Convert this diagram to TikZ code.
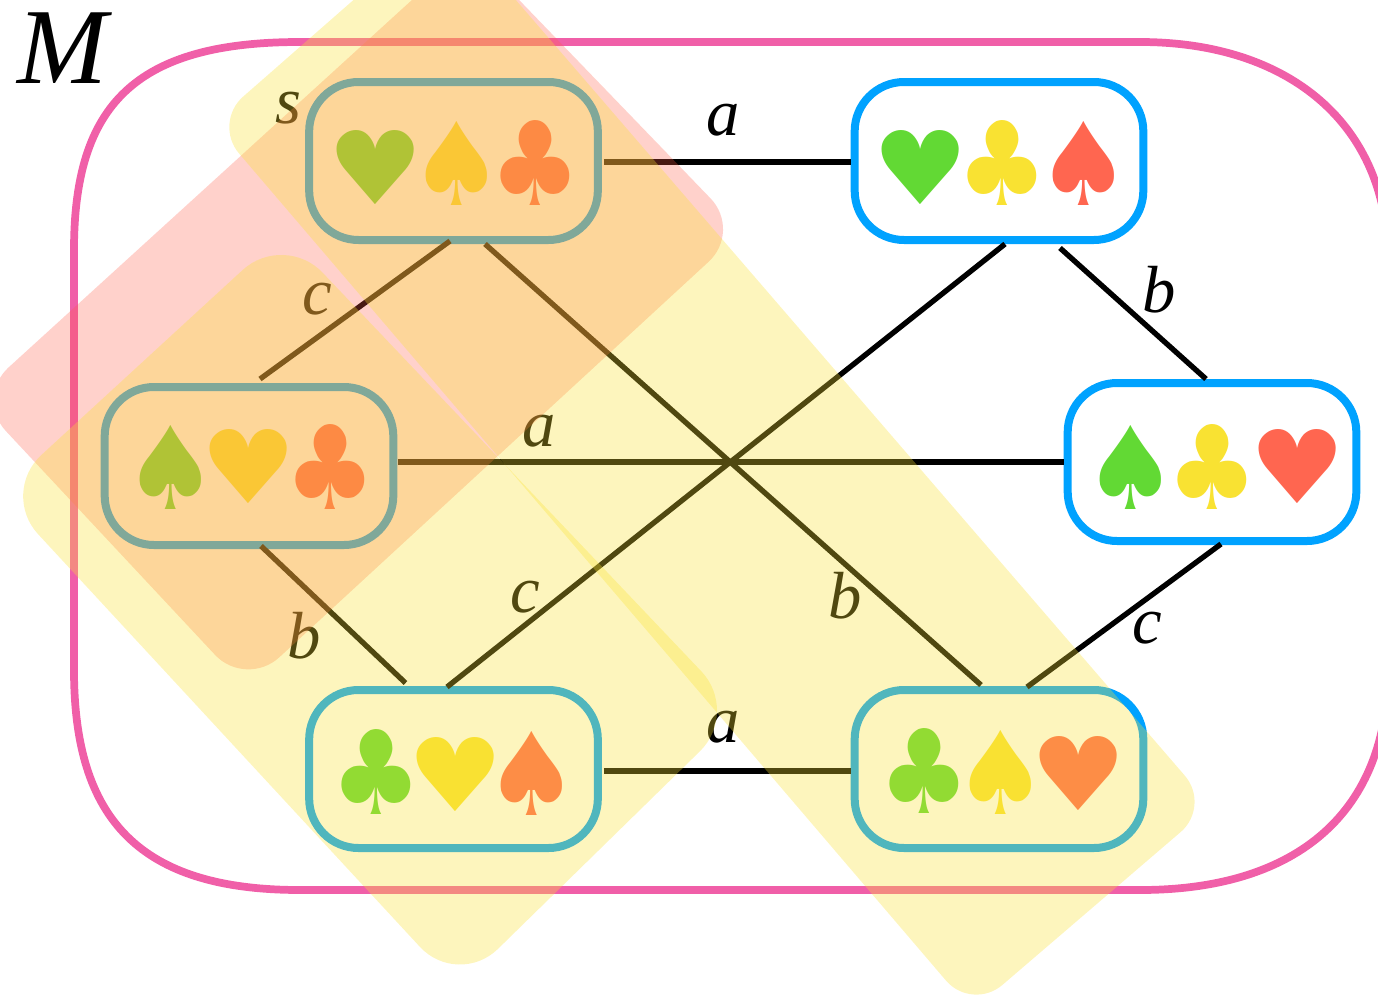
\documentclass[tikz,border=0pt]{standalone}
\usepackage{graphicx}
\usepackage{fontspec}
\setmainfont{Liberation Serif}
\newfontfamily\suitfont{DejaVu Sans}
\usetikzlibrary{calc}
\definecolor{cblue}{HTML}{00A2FF}
\definecolor{cframe}{HTML}{F05FA8}
\definecolor{cgreen}{RGB}{98,217,52}
\definecolor{cyel}{RGB}{249,226,50}
\definecolor{cred}{RGB}{255,102,80}
\definecolor{opink}{RGB}{255,90,70}
\definecolor{oyel}{RGB}{250,225,50}
\newcommand\suit[7]{\node[suitglyph,text=#3] (#1) at (#4,#5) {\resizebox{\dimexpr #6pt*3/4\relax}{\dimexpr #7pt*3/4\relax}{\suitfont #2}};}
\newcommand\hrt[4]{\suit{#1}{\kern-.0565em ♥\kern-.0565em}{#2}{#3}{#4}{84}{74}}
\newcommand\spd[4]{\suit{#1}{\kern-.107em ♠\kern-.107em}{#2}{#3}{#4}{72}{84}}
\newcommand\clb[4]{\suit{#1}{\kern-.0765em ♣\kern-.0765em}{#2}{#3}{#4}{76}{85}}
\tikzset{
  state/.style={draw=cblue,line width=6pt,rounded corners=37pt,minimum width=216.5pt,minimum height=118.5pt,inner sep=0pt,fill=white},
  edge/.style={draw=black,line width=4pt},
  suitglyph/.style={inner sep=0pt,outer sep=0pt},
  lab/.style={inner sep=0pt,font=\fontsize{50}{50}\selectfont\itshape},
  frame/.style={draw=cframe,line width=5.8pt},
  pinkarea/.style={fill=opink,fill opacity=.28,rounded corners=34pt},
  yelarea/.style={fill=oyel,fill opacity=.32,rounded corners=30pt},
  yelareatwo/.style={fill=oyel,fill opacity=.32,rounded corners=42pt}
}
\begin{document}
\begin{tikzpicture}[x=0.75pt,y=-0.75pt]
\useasboundingbox (0,0) rectangle (1378,996);
\clip (0,0) rectangle (1378,996);
% frame
\draw[frame] (74,400) -- (74,250) .. controls (74,105) and (135,42) .. (300,42) -- (1140,42) .. controls (1290,42) and (1388,125) .. (1388,260) -- (1388,670) .. controls (1388,810) and (1300,890) .. (1140,890) -- (300,890) .. controls (140,890) and (74,820) .. (74,670) -- cycle;
% states
\node[state] (b1) at (453.5,161) {};
\node[state] (b2) at (999,161) {};
\node[state] (b3) at (249,466) {};
\node[state] (b4) at (1212,462) {};
\node[state] (b5) at (453.5,769) {};
\node[state] (b6) at (999,769) {};
% connectors
\draw[edge] ($(b1.east)+(2,1)$) -- ($(b2.west)+(0,1)$);
\draw[edge] ($(b5.east)+(2,2)$) -- ($(b6.west)+(0,2)$);
\draw[edge] ($(b3.east)+(1,-4)$) -- ($(b4.west)+(0,0)$);
\draw[edge] ($(b1.south)+(-3.5,-3)$) -- ($(b3.north)+(11,-4)$);
\draw[edge] ($(b3.south)+(12,-3)$) -- ($(b5.north)+(-48,-3)$);
\draw[edge] ($(b1.south)+(31.5,0)$) -- ($(b6.north)+(-18,-1)$);
\draw[edge] ($(b2.south)+(6,0)$) -- ($(b5.north)+(-6.5,1)$);
\draw[edge] ($(b2.south)+(61,4)$) -- ($(b4.north)+(-6,0)$);
\draw[edge] ($(b4.south)+(9,-1)$) -- ($(b6.north)+(28,1)$);
% suits
\hrt{h1}{cgreen}{376}{167}\spd{s1}{cyel}{457}{163}\clb{c1}{cred}{535}{162.5}
\hrt{h2}{cgreen}{921}{167}\clb{c2}{cyel}{1002}{162.5}\spd{s2}{cred}{1084}{163}
\spd{s3}{cgreen}{171}{467}\hrt{h3}{cyel}{249}{466}\clb{c3}{cred}{330}{466.5}
\spd{s4}{cgreen}{1131}{467}\clb{c4}{cyel}{1212}{466.5}\hrt{h4}{cred}{1298}{466}
\clb{c5}{cgreen}{376}{771.5}\hrt{h5}{cyel}{456}{774}\spd{s5}{cred}{532}{773}
\clb{c6}{cgreen}{924}{770.5}\spd{s6}{cyel}{1001}{772}\hrt{h6}{cred}{1078.5}{773}
% labels
\node[lab] (la1) at (723,120) {a};
\node[lab] (ls) at (288,108) {s};
\node[lab] (lc1) at (317,299) {c};
\node[lab] (la2) at (539,431) {a};
\node[lab] (lb1) at (1159,290) {b};
\node[lab] (lc2) at (525,597) {c};
\node[lab] (lb2) at (845,596) {b};
\node[lab] (lb3) at (304,636) {b};
\node[lab] (lc3) at (1147,628) {c};
\node[lab] (la3) at (723,727) {a};
\node[inner sep=0pt,font=\fontsize{81}{81}\selectfont\itshape] (lm) at (62,48) {M};
% overlays
\fill[pinkarea] (469,-52) -- (742,231) -- (246,688) -- (-25,398) -- cycle;
\fill[yelarea] (446,-81) -- (1211,806) -- (972,1011) -- (213,123) -- cycle;
\fill[yelareatwo] (284,232) -- (740,712) -- (458,988) -- (0,493) -- cycle;
\end{tikzpicture}
\end{document}
